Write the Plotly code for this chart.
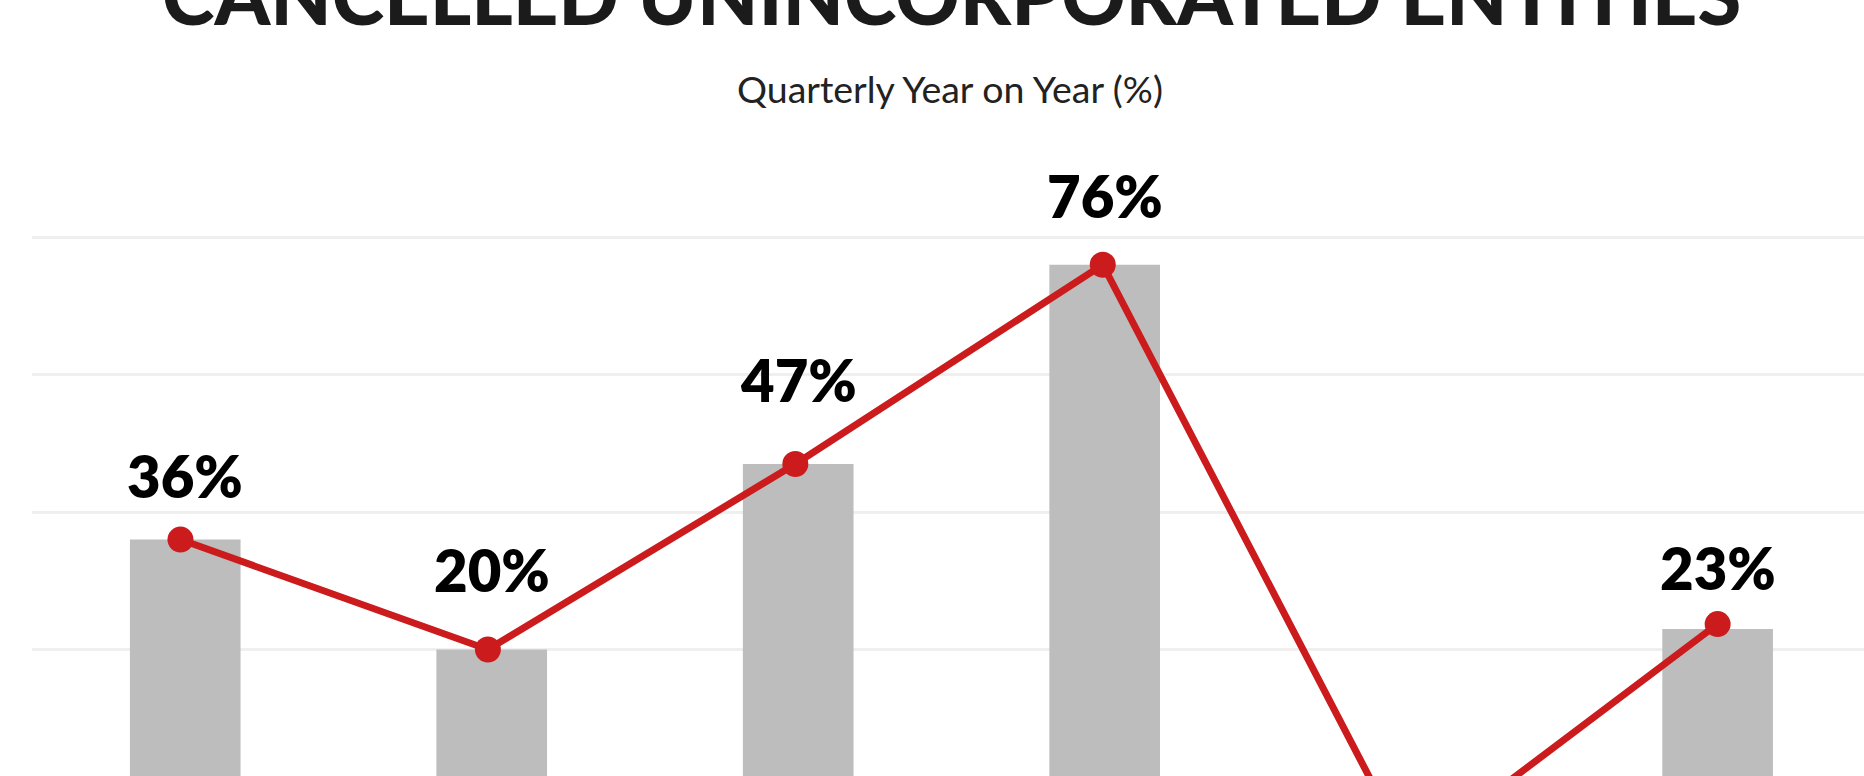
import plotly.graph_objects as go

# ---- data ----
categories = ["Q1", "Q2", "Q3", "Q4", "Q5", "Q6"]
bar_values = [36, 20, 47, 76, -10, 23]          # grey bars (%)
line_values = [36, 20, 47, 76, -10, 23.7]       # red line (%)
value_labels = ["36%", "20%", "47%", "76%", "-10%", "23%"]
grid_ticks = [0, 20, 40, 60, 80]

title_text = "CANCELLED UNINCORPORATED ENTITIES"
subtitle_text = "Quarterly Year on Year (%)"

# ---- style ----
label_yshift = [64, 80, 84, 69, -60, 61]
BAR_COLOR = "#BDBDBD"
RED = "#CC1B1D"
GRID = "#EFEFEF"

xpos = list(range(len(categories)))

fig = go.Figure()
fig.add_trace(go.Bar(
    x=xpos, y=bar_values, width=0.361,
    marker=dict(color=BAR_COLOR, line=dict(width=0)),
    hoverinfo="skip", xaxis="x", yaxis="y",
))
fig.add_trace(go.Scatter(
    x=xpos, y=line_values, mode="lines+markers",
    line=dict(color=RED, width=7),
    marker=dict(color=RED, size=26, line=dict(width=0)),
    hoverinfo="skip", xaxis="x2", yaxis="y",
))

annotations = []
for xi, v, lab, ys in zip(xpos, bar_values, value_labels, label_yshift):
    annotations.append(dict(
        x=xi, y=v, xref="x", yref="y", text=lab, showarrow=False,
        xanchor="center", yanchor="middle", yshift=ys,
        font=dict(family="Lato", size=58, color="#000000", weight=800),
    ))

annotations.append(dict(
    x=(951.5 - 31.5) / 1832.5, y=1.1556, xref="paper", yref="paper",
    text=title_text, showarrow=False, xanchor="center", yanchor="middle",
    font=dict(family="Lato", size=79.5, color="#1B1B1B", weight=900),
))
annotations.append(dict(
    x=(950 - 31.5) / 1832.5, y=1.0166, xref="paper", yref="paper",
    text=subtitle_text, showarrow=False, xanchor="center", yanchor="middle",
    font=dict(family="Lato", size=37.5, color="#222222"),
))

fig.update_layout(
    width=1864, height=776,
    margin=dict(l=31.5, r=0, t=100, b=0, pad=0),
    paper_bgcolor="white", plot_bgcolor="white",
    showlegend=False,
    annotations=annotations,
    xaxis=dict(range=[-0.5, 5.4776], showticklabels=False, showgrid=False,
               zeroline=False, showline=False, ticks="",
               tickvals=xpos, ticktext=categories),
    xaxis2=dict(range=[-0.4829, 5.4761], overlaying="x", visible=False),
    yaxis=dict(range=[1.587, 99.98], tickvals=grid_ticks, showticklabels=False,
               showgrid=True, gridcolor=GRID, gridwidth=2.5,
               zeroline=False, showline=False, ticks=""),
)

fig.write_html("out.html")
